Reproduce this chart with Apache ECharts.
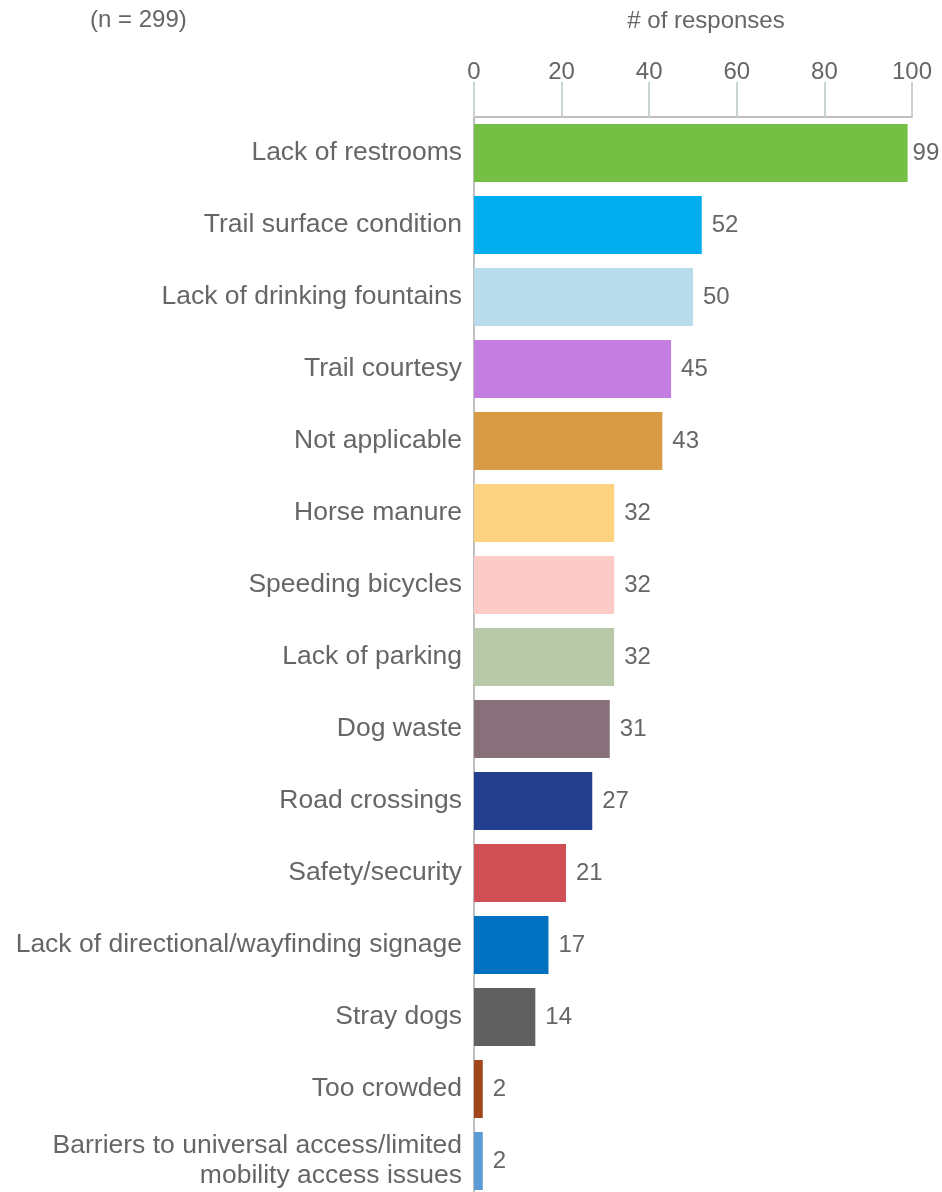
<!DOCTYPE html>
<html>
<head>
<meta charset="utf-8">
<script src="https://cdn.jsdelivr.net/npm/echarts@6/dist/echarts.min.js"></script>
<style>
html,body{margin:0;padding:0;background:#fff;}
#chart{width:942px;height:1192px;}
</style>
</head>
<body>
<div id="chart"></div>
<script>
const categories = [
  "Lack of restrooms",
  "Trail surface condition",
  "Lack of drinking fountains",
  "Trail courtesy",
  "Not applicable",
  "Horse manure",
  "Speeding bicycles",
  "Lack of parking",
  "Dog waste",
  "Road crossings",
  "Safety/security",
  "Lack of directional/wayfinding signage",
  "Stray dogs",
  "Too crowded",
  "Barriers to universal access/limited\nmobility access issues"
];
const values = [99, 52, 50, 45, 43, 32, 32, 32, 31, 27, 21, 17, 14, 2, 2];
const barColors = [
  "#76BF45", "#00AEEF", "#B8DCEC", "#C47DE0", "#D89A42",
  "#FDD280", "#FCCBC8", "#B8C9AA", "#877079", "#233F8E",
  "#CF4F54", "#0070C0", "#606060", "#A0461A", "#5B9BD5"
];
const xTicks = [0, 20, 40, 60, 80, 100];
const axisTitle = "# of responses";
const sampleNote = "(n = 299)";

const chart = echarts.init(document.getElementById('chart'));
const textColor = '#666666';
const font = "'Liberation Sans', Arial, sans-serif";

chart.setOption({
  animation: false,
  backgroundColor: '#ffffff',
  textStyle: { fontFamily: font },
  graphic: [{
    type: 'text',
    left: 90,
    top: 8,
    style: { text: sampleNote, fill: textColor, fontSize: 24, fontFamily: font }
  }, {
    type: 'text',
    x: 706,
    y: 21,
    style: { text: axisTitle, fill: textColor, fontSize: 24, fontFamily: font, align: 'center', verticalAlign: 'middle' }
  }],
  grid: { left: 474, right: 30, top: 117, bottom: -5, outerBoundsMode: 'none', containLabel: false },
  xAxis: {
    type: 'value',
    position: 'top',
    min: xTicks[0],
    max: xTicks[xTicks.length - 1],
    interval: 20,
    axisLine: { show: true, lineStyle: { color: '#BFBFBF', width: 2 } },
    axisTick: { show: true, length: 35, lineStyle: { color: '#C9D6CF', width: 2 } },
    axisLabel: { color: textColor, fontSize: 24, margin: 33, fontFamily: font },
    splitLine: { show: false }
  },
  yAxis: {
    type: 'category',
    inverse: true,
    data: categories,
    axisLine: { show: true, lineStyle: { color: '#BFBFBF', width: 2 } },
    axisTick: { show: false },
    axisLabel: { color: textColor, fontSize: 26.5, margin: 12, lineHeight: 30, fontFamily: font, align: 'right' }
  },
  series: [{
    type: 'bar',
    data: values.map((v, i) => ({
      value: v,
      itemStyle: { color: barColors[i] },
      label: { distance: i === 0 ? 5 : 10 }
    })),
    barCategoryGap: '19.5%',
    label: {
      show: true,
      position: 'right',
      distance: 10,
      color: textColor,
      fontSize: 24,
      fontFamily: font
    }
  }]
});
</script>
</body>
</html>
